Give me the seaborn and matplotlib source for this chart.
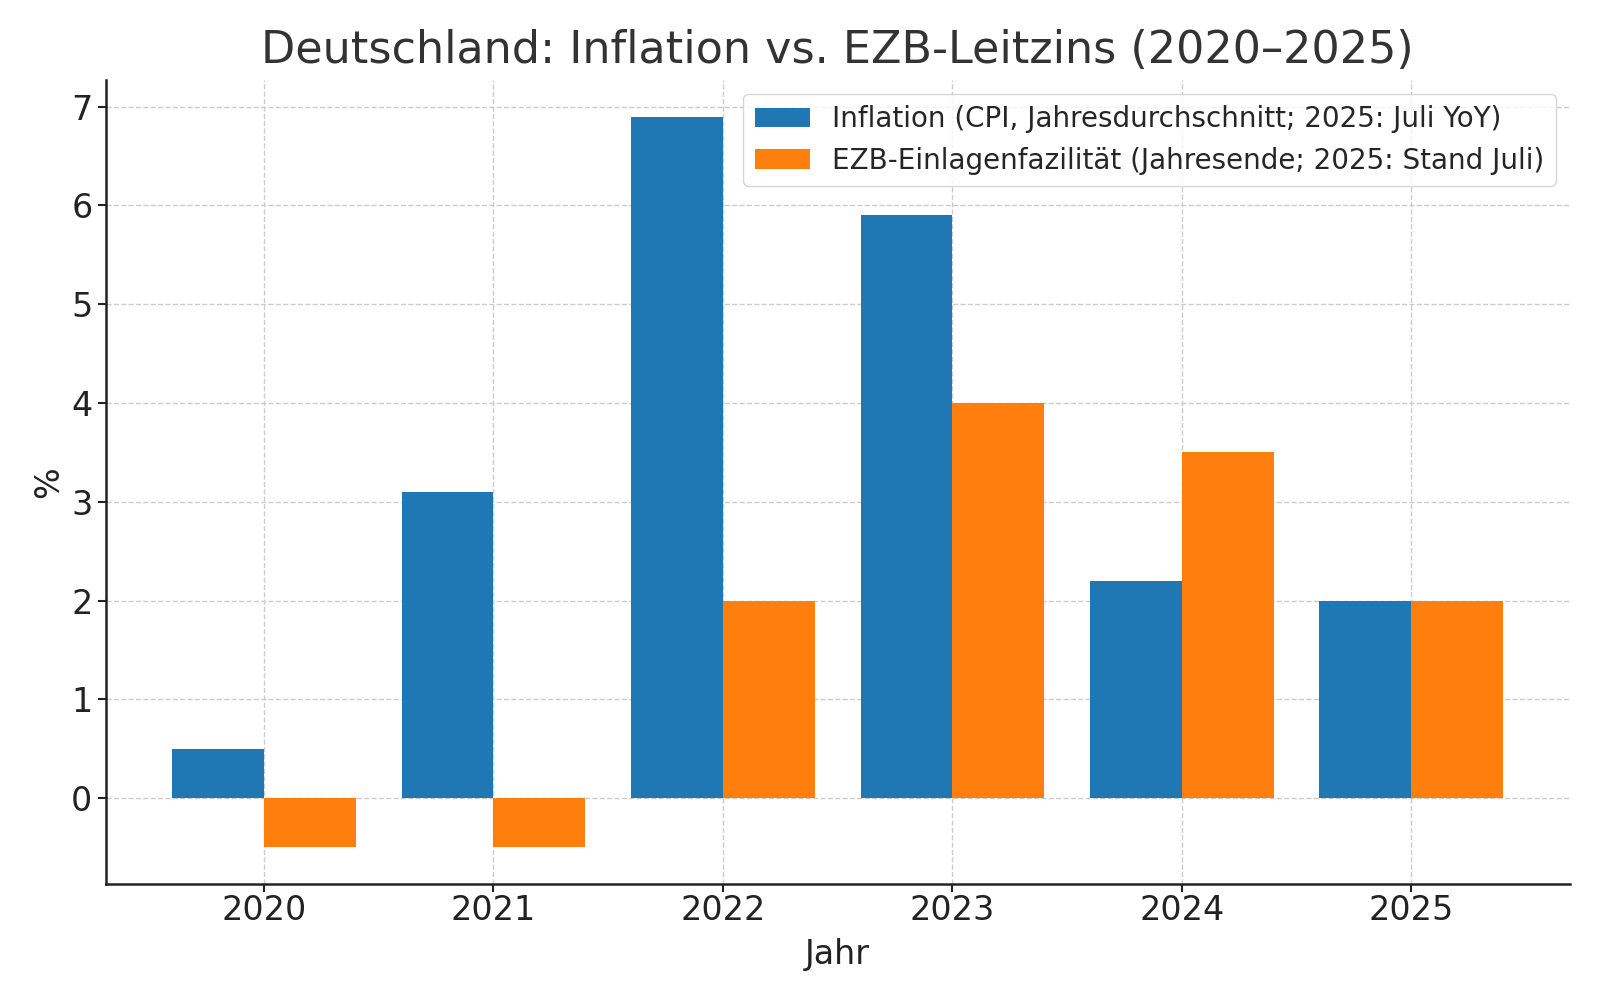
import numpy as np
import pandas as pd
import matplotlib
matplotlib.use("Agg")
import matplotlib.pyplot as plt
import seaborn as sns

# Daten
jahre = ["2020", "2021", "2022", "2023", "2024", "2025"]
inflation = [0.5, 3.1, 6.9, 5.9, 2.2, 2.0]
ezb_satz = [-0.5, -0.5, 2.0, 4.0, 3.5, 2.0]
serien = ["Inflation (CPI, Jahresdurchschnitt; 2025: Juli YoY)",
          "EZB-Einlagenfazilität (Jahresende; 2025: Stand Juli)"]

df = pd.DataFrame({
    "Jahr": jahre * 2,
    "Wert": inflation + ezb_satz,
    "Serie": [serien[0]] * len(jahre) + [serien[1]] * len(jahre),
})

sns.set_style("ticks")
plt.rcParams["font.family"] = ["DejaVu Sans"]

fig, ax = plt.subplots(figsize=(16, 10), dpi=100)
fig.subplots_adjust(left=0.066, right=0.981, bottom=0.116, top=0.92)

sns.barplot(data=df, x="Jahr", y="Wert", hue="Serie", ax=ax,
            palette=["#1f77b4", "#ff7f0e"], saturation=1, width=0.8,
            edgecolor="none")

# matplotlib-Standardrand (5 %) statt seaborn-Kategorienrand
n = len(jahre)
rand = 0.05 * (n - 1 + 0.8)
ax.set_xlim(-0.4 - rand, n - 1 + 0.4 + rand)

ax.grid(True, linestyle="--", color="#cccccc", linewidth=1.0)
ax.set_axisbelow(True)
sns.despine(ax=ax)
for s in ["left", "bottom"]:
    ax.spines[s].set_linewidth(1.8)
    ax.spines[s].set_color("#222222")

ax.set_title("Deutschland: Inflation vs. EZB-Leitzins (2020–2025)",
             fontsize=32, color="#333333", pad=12)
ax.set_xlabel("Jahr", fontsize=24, color="#222222", labelpad=8)
ax.set_ylabel("%", fontsize=24, color="#222222")
ax.tick_params(axis="both", labelsize=24, width=1.5, length=6, colors="#222222")
ax.tick_params(axis="x", pad=1)

ax.legend(title=None, fontsize=20, loc="upper right", frameon=True,
          framealpha=0.8, edgecolor="#cccccc")

fig.savefig("out.png", dpi=100)
